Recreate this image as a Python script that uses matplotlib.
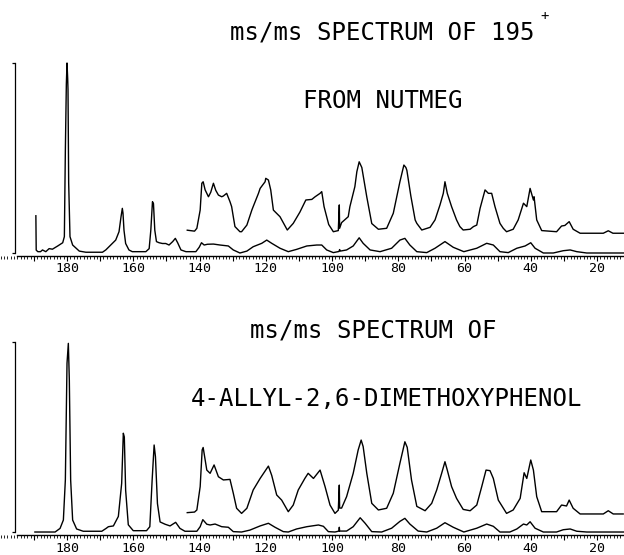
import matplotlib.pyplot as plt
from matplotlib.ticker import FixedLocator, FixedFormatter, MultipleLocator

plt.rcParams['font.family'] = ['DejaVu Sans Mono', 'DejaVu Sans']

# m/z axis ticks (every 10, labels every 20)
major_ticks = [190, 180, 170, 160, 150, 140, 130, 120, 110, 100, 90, 80, 70, 60, 50, 40, 30, 20]
major_labels = ['', '180', '', '160', '', '140', '', '120', '', '100', '', '80', '', '60', '', '40', '', '20']
scale_ticks = [0, 100]

# ---- top: ms/ms of 195+ from nutmeg ----
# full-scale trace
top_low_mz = [189.4, 189.3, 188.8, 188.0, 187.4, 186.4, 185.4, 184.4, 182.8, 181.3, 180.8, 180.5, 180.2,
              180.0, 179.8, 179.7, 179.5, 179.1, 178.3, 176.3, 174.3, 169.3, 168.3, 166.8, 165.3, 164.3,
              163.7, 163.3, 163.1, 162.8, 162.3, 161.3, 160.3, 156.2, 155.2, 154.7, 154.2, 153.9, 153.5,
              153.0, 152.2, 151.2, 150.2, 149.2, 148.1, 147.3, 146.6, 145.6, 144.1, 141.1, 140.1, 139.4,
              138.6, 137.6, 135.8, 133.8, 131.3, 129.8, 127.8, 125.7, 123.8, 121.2, 119.7, 118.2, 115.7,
              113.2, 110.7, 107.6, 104.6, 103.1, 101.6, 99.6, 97.9, 97.7, 97.5, 95.6, 93.6, 91.8, 90.6,
              88.5, 85.5, 82.0, 79.5, 78.0, 76.5, 74.4, 71.4, 68.9, 65.9, 63.4, 60.2, 56.3, 53.3, 51.3,
              49.3, 46.8, 44.2, 41.7, 40.0, 38.7, 36.2, 33.2, 30.2, 28.1, 26.1, 23.1, 12.0]
top_low_int = [19.6, 1.5, 0.7, 0.7, 1.6, 0.7, 2.3, 2.0, 3.7, 5.4, 8.6, 54, 89,
               100, 92, 86, 37, 8.6, 4.2, 1.0, 0.4, 0.4, 1.6, 4.2, 6.8, 11.2,
               19, 23.5, 21, 12, 5, 1.6, 0.7, 0.7, 2.3, 12, 27, 26, 12,
               6, 5.4, 5.0, 5.0, 4.2, 6.0, 7.7, 5.4, 1.6, 0.7, 0.7, 3.0, 5.4,
               4.2, 4.6, 4.7, 4.2, 3.7, 1.6, 0.0, 1.0, 3.3, 5.1, 6.8, 5.1, 2.5,
               0.7, 1.9, 3.7, 4.2, 4.2, 1.6, 0.2, 0.8, 1.8, 1.0, 1.6, 3.7, 8.0, 5.1,
               1.6, 0.7, 2.5, 6.8, 7.7, 4.2, 0.7, 0.2, 2.5, 6.0, 3.0, 0.7, 2.5, 5.1, 4.2,
               0.7, 0.2, 2.5, 3.7, 5.4, 2.5, 0.0, 0.0, 1.2, 1.6, 0.7, 0.0, 0.0]

# expanded trace
top_up_mz = [143.7, 141.5, 140.8, 139.8, 139.3, 138.9, 138.3, 137.8, 137.3, 136.6, 135.8, 135.1, 134.3,
             133.3, 132.8, 131.8, 130.8, 130.3, 129.8, 129.3, 128.8, 127.8, 127.3, 125.7, 124.2, 123.8,
             122.2, 121.7, 120.2, 120.0, 119.2, 118.5, 117.7, 117.2, 115.7, 113.5, 111.7, 109.7, 107.9,
             106.1, 105.1, 103.6, 103.1, 102.4, 101.0, 99.6, 98.1, 97.8, 97.7, 97.1, 95.1, 94.6, 93.6,
             93.1, 92.5, 91.8, 91.0, 89.5, 88.0, 86.0, 83.5, 81.5, 79.5, 78.3, 77.7, 77.4, 76.2, 74.9,
             74.4, 72.9, 70.4, 68.9, 67.4, 66.4, 65.9, 65.2, 63.9, 62.4, 61.4, 60.4, 58.3, 57.3, 56.3,
             55.3, 53.8, 52.8, 51.8, 50.8, 49.3, 48.3, 47.3, 45.3, 43.8, 42.2, 41.2, 40.2, 39.2, 39.0,
             38.2, 36.7, 32.2, 30.7, 29.7, 28.4, 27.2, 25.1, 18.1, 16.6, 15.2, 11.9]
top_up_int = [12.0, 11.5, 13.0, 22.6, 36.7, 37.5, 33.2, 31.4, 29.6, 32.0, 36.7, 33.0, 30.5,
              29.6, 30.0, 31.4, 27.0, 24.4, 19.1, 13.9, 13.0, 11.2, 11.2, 14.7, 22.6, 24.4,
              31.4, 34.0, 37.5, 39.3, 38.4, 33.2, 22.6, 21.7, 19.1, 12.1, 15.6, 21.5, 27.9,
              28.2, 29.6, 31.4, 32.3, 24.4, 15.0, 11.2, 11.8, 25.3, 13.0, 16.0, 19.1, 24.4, 31.4,
              34.9, 42.8, 48.0, 45.0, 29.5, 15.5, 12.5, 13.0, 20.9, 37.5, 46.3, 45.0, 43.5, 30.0, 17.4,
              15.6, 12.1, 13.5, 17.4, 25.3, 31.4, 37.5, 31.4, 24.4, 17.4, 13.9, 12.1, 12.5, 13.9, 14.7,
              23.5, 33.2, 31.4, 31.4, 24.4, 15.6, 13.0, 11.2, 12.5, 17.4, 26.2, 24.4, 34.0, 27.9, 29.6,
              17.4, 11.8, 11.2, 14.2, 14.5, 16.5, 12.5, 10.4, 10.4, 11.7, 10.4, 10.4]

# ---- bottom: ms/ms of 4-allyl-2,6-dimethoxyphenol ----
bot_low_mz = [189.7, 183.6, 182.1, 181.1, 180.5, 180.0, 179.6, 179.3, 178.9, 178.3, 177.1, 175.1, 169.5,
              168.2, 167.5, 166.0, 164.5, 163.5, 163.0, 162.7, 162.3, 161.5, 160.0, 156.0, 155.0, 154.3,
              153.7, 153.3, 152.7, 151.9, 150.4, 148.9, 147.2, 145.9, 144.4, 140.8, 139.8, 139.0, 137.8,
              136.8, 135.3, 133.3, 131.3, 129.8, 127.3, 124.8, 121.7, 119.2, 117.2, 114.7, 113.2, 110.7,
              107.6, 104.1, 102.6, 101.1, 99.1, 97.9, 97.8, 97.7, 95.6, 93.6, 91.5, 90.0, 88.0, 85.0,
              82.0, 79.5, 78.0, 76.5, 74.0, 71.4, 68.4, 65.9, 63.4, 60.2, 56.3, 53.3, 51.3, 49.3, 46.3,
              44.2, 42.2, 41.2, 40.2, 38.7, 36.2, 32.2, 30.2, 28.1, 26.1, 23.1, 12.0]
bot_low_int = [0.0, 0.0, 1.9, 6.3, 27.4, 88.8, 99.3, 80, 27.4, 6.3, 1.6, 0.4, 0.4,
               1.9, 2.8, 3.2, 8.2, 25.6, 52, 50, 22, 3.8, 0.7, 0.7, 2.8, 27.4,
               45.8, 39.6, 15, 5.3, 4.1, 3.2, 5.1, 1.9, 0.4, 0.4, 2.8, 6.5, 4.1,
               3.7, 4.2, 2.8, 2.5, 0.2, 0.0, 1.0, 3.2, 4.6, 2.5, 0.2, 0.0, 1.6,
               2.8, 3.7, 3.0, 0.2, 0.0, 0.5, 2.5, 0.5, 0.5, 2.8, 7.5, 4.6, 0.2, 0.0,
               2.0, 5.6, 7.2, 4.2, 0.5, 0.0, 2.0, 4.9, 2.5, 0.0, 2.0, 4.2, 3.0, 0.0, 0.0,
               1.6, 4.2, 3.7, 5.4, 2.0, 0.0, 0.0, 1.2, 1.6, 0.4, 0.0, 0.0]

bot_up_mz = [143.7, 141.5, 140.8, 139.8, 139.2, 138.9, 137.8, 136.8, 135.6, 134.3, 132.8, 130.8, 129.8,
             128.8, 127.3, 125.7, 123.8, 121.7, 119.2, 118.2, 116.7, 115.2, 113.2, 111.7, 110.2, 108.2,
             107.2, 105.6, 103.6, 102.1, 100.6, 99.1, 98.1, 97.8, 97.7, 97.1, 95.6, 93.6, 92.1, 91.2,
             90.6, 89.5, 88.0, 86.0, 83.5, 81.5, 79.5, 78.0, 77.3, 76.0, 74.4, 71.9, 69.9, 68.4, 66.9,
             65.9, 65.2, 63.9, 62.4, 60.4, 58.3, 56.3, 54.8, 53.5, 52.3, 51.3, 49.8, 47.3, 45.3, 43.2,
             42.0, 41.2, 40.0, 39.2, 38.2, 36.7, 32.2, 30.7, 29.2, 28.4, 27.2, 25.1, 18.1, 16.6, 15.1, 12.1]
bot_up_int = [10.2, 10.5, 11.6, 23.9, 43.2, 44.5, 32.6, 30.9, 35.3, 29.1, 27.4, 27.7, 20.4,
              12.5, 9.8, 12.5, 22.1, 28.2, 34.7, 29.8, 19.5, 16.8, 10.7, 14.2, 22.1, 28.2,
              30.9, 28.2, 32.6, 23.9, 14.2, 9.8, 11.5, 24.7, 12.6, 12.6, 18.6, 30.9, 43.2, 48.4,
              45.0, 30.9, 15.1, 11.6, 12.5, 20.4, 36.2, 47.5, 44.6, 27.4, 13.5, 11.2, 15.1, 22.1, 30.9,
              37.0, 32.6, 23.9, 17.7, 11.9, 11.2, 14.2, 23.9, 32.6, 32.3, 28.2, 16.8, 9.8, 11.6, 17.7,
              31.2, 28.2, 37.9, 32.6, 18.6, 10.7, 10.7, 14.2, 13.7, 16.8, 12.5, 9.5, 9.5, 11.2, 9.5, 9.5]

W, H = 624, 555
fig = plt.figure(figsize=(W / 100, H / 100), dpi=100)


def panel(rect, ylim, axis_y, low, up):
    ax = fig.add_axes(rect)
    ax.plot(low[0], low[1], color='black', lw=1.0)
    ax.plot(up[0], up[1], color='black', lw=1.0)
    ax.set_xlim(200.23, 11.85)
    ax.set_ylim(*ylim)
    ax.patch.set_visible(False)
    for s in ['top', 'right']:
        ax.spines[s].set_visible(False)
    ax.spines['bottom'].set_position(('data', axis_y))
    ax.spines['bottom'].set_bounds(12, 195)
    ax.spines['bottom'].set_linewidth(1.0)
    ax.spines['left'].set_position(('data', 195.7))
    ax.spines['left'].set_bounds(0, 100)
    ax.spines['left'].set_linewidth(0.9)
    ax.xaxis.set_major_locator(FixedLocator(major_ticks))
    ax.xaxis.set_major_formatter(FixedFormatter(major_labels))
    ax.xaxis.set_minor_locator(MultipleLocator(1))
    ax.tick_params(axis='x', which='major', direction='out', length=3.5, width=0.8,
                   pad=1.2, labelsize=9.5)
    ax.tick_params(axis='x', which='minor', direction='out', length=2, width=0.6)
    ax.set_yticks(scale_ticks)
    ax.tick_params(axis='y', direction='out', length=2, width=0.9, labelleft=False)
    return ax


# pixel rows: top panel baseline 253, full scale 63; bottom baseline 532, full scale 343
panel([0, (H - 275) / H, 1, 235 / H], (-11.58, 112.1), -1.4,
      (top_low_mz, top_low_int), (top_up_mz, top_up_int))
panel([0, 0, 1, 235 / H], (-12.1, 111.6), -1.8,
      (bot_low_mz, bot_low_int), (bot_up_mz, bot_up_int))

fs = 17.3
fig.text(230 / W, 1 - 40 / H, 'ms/ms SPECTRUM OF 195', fontsize=fs, va='baseline')
fig.text(545 / W, 1 - 16 / H, '+', fontsize=10, ha='center', va='center')
fig.text(303 / W, 1 - 108 / H, 'FROM NUTMEG', fontsize=fs, va='baseline')
fig.text(250 / W, 1 - 338 / H, 'ms/ms SPECTRUM OF', fontsize=fs, va='baseline')
fig.text(191 / W, 1 - 406 / H, '4-ALLYL-2,6-DIMETHOXYPHENOL', fontsize=fs, va='baseline')

fig.savefig('out.png', dpi=100)
